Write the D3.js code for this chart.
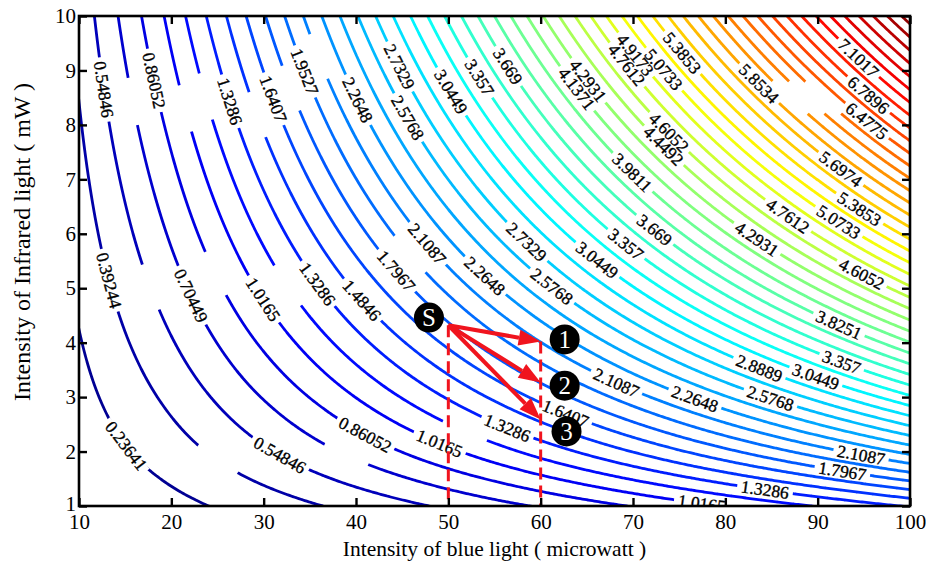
<!DOCTYPE html>
<html>
<head>
<meta charset="utf-8">
<script src="https://cdn.jsdelivr.net/npm/d3@7"></script>
<style>
  body { margin: 0; background: #fff; }
  svg { display: block; }
  text { font-family: "Liberation Serif", "Times New Roman", serif; }
</style>
</head>
<body>
<svg id="chart" width="926" height="563"></svg>
<script>
// ---- data ---------------------------------------------------------------
// response surface sampled on a coarse grid (rows: infrared mW, cols: blue µW)
const xNodes = [10, 20, 30, 40, 50, 60, 70, 80, 90, 100];
const yNodes = [1, 2, 3, 4, 5, 6, 7, 8, 9, 10];
const zRows = [
  [0.0811, 0.1890, 0.3099, 0.4402, 0.5779, 0.7219, 0.8712, 1.0253, 1.1839, 1.3463],
  [0.1355, 0.3183, 0.5246, 0.7478, 0.9845, 1.2326, 1.4904, 1.7569, 2.0316, 2.3133],
  [0.1829, 0.4319, 0.7139, 1.0197, 1.3445, 1.6855, 2.0404, 2.4075, 2.7863, 3.1752],
  [0.2263, 0.5362, 0.8882, 1.2707, 1.6772, 2.1046, 2.5498, 3.0106, 3.4865, 3.9751],
  [0.2669, 0.6342, 1.0523, 1.5070, 1.9910, 2.5002, 3.0307, 3.5805, 4.1483, 4.7316],
  [0.3055, 0.7275, 1.2087, 1.7326, 2.2906, 2.8782, 3.4906, 4.1256, 4.7818, 5.4562],
  [0.3424, 0.8169, 1.3588, 1.9493, 2.5786, 3.2417, 3.9332, 4.6504, 5.3917, 6.1540],
  [0.3779, 0.9032, 1.5038, 2.1588, 2.8573, 3.5936, 4.3617, 5.1587, 5.9827, 6.8302],
  [0.4123, 0.9869, 1.6445, 2.3623, 3.1280, 3.9357, 4.7784, 5.6531, 6.5577, 7.4884],
  [0.4458, 1.0684, 1.7816, 2.5606, 3.3920, 4.2693, 5.1849, 6.1356, 7.1190, 8.1310]
];

// contour levels
const levels = [
  0.23641, 0.39244, 0.54846, 0.70449, 0.86052, 1.0165, 1.1726, 1.3286, 1.4846, 1.6407,
  1.7967, 1.9527, 2.1087, 2.2648, 2.4208, 2.5768, 2.7329, 2.8889, 3.0449, 3.201,
  3.357, 3.513, 3.669, 3.8251, 3.9811, 4.1371, 4.2931, 4.4492, 4.6052, 4.7612,
  4.9173, 5.0733, 5.2293, 5.3853, 5.5414, 5.6974, 5.8534, 6.0095, 6.1655, 6.3215,
  6.4775, 6.6336, 6.7896, 6.9456, 7.1017, 7.2577, 7.4137, 7.5698, 7.7258, 7.8818, 8.0378
];
const colorDomain = [0.0804, 8.19];

const xTicks = [10, 20, 30, 40, 50, 60, 70, 80, 90, 100];
const yTicks = [1, 2, 3, 4, 5, 6, 7, 8, 9, 10];

// inline contour labels: [text, blue, infrared]
const contourLabels = [
  ["0.23641", 15.3, 2.13], ["0.39244", 13.6, 5.16], ["0.54846", 12.3, 8.64],
  ["0.54846", 31.6, 1.89], ["0.70449", 21.7, 4.83], ["0.86052", 18.5, 8.83],
  ["0.86052", 40.9, 2.28], ["1.0165", 29.9, 4.79], ["1.0165", 48.9, 2.09],
  ["1.0165", 77.5, 1.1], ["1.3286", 25.7, 8.40], ["1.3286", 35.2, 5.0],
  ["1.3286", 56.3, 2.40], ["1.3286", 84.3, 1.30], ["1.4846", 40.3, 4.73],
  ["1.6407", 30.8, 8.46], ["1.6407", 62.7, 2.70], ["1.7967", 44.1, 5.28],
  ["1.7967", 92.7, 1.67], ["1.9527", 34.0, 8.95], ["2.1087", 47.6, 5.80],
  ["2.1087", 68.0, 3.19], ["2.1087", 94.7, 1.94], ["2.2648", 40.2, 8.46],
  ["2.2648", 53.6, 5.16], ["2.2648", 76.6, 2.92], ["2.5768", 45.2, 8.09],
  ["2.5768", 60.9, 4.97], ["2.5768", 84.9, 2.99], ["2.7329", 44.6, 9.06],
  ["2.7329", 58.2, 5.80], ["2.8889", 83.7, 3.54], ["3.0449", 50.1, 8.59],
  ["3.0449", 65.9, 5.47], ["3.0449", 89.8, 3.38], ["3.357", 53.3, 8.86],
  ["3.357", 69.0, 5.76], ["3.357", 92.7, 3.69], ["3.669", 56.3, 9.06],
  ["3.669", 72.1, 6.02], ["3.8251", 92.2, 4.29], ["3.9811", 69.9, 7.12],
  ["4.1371", 63.7, 8.64], ["4.2931", 64.8, 8.77], ["4.2931", 83.2, 5.85],
  ["4.4492", 73.2, 7.60], ["4.6052", 73.4, 7.78], ["4.6052", 94.6, 5.21],
  ["4.7612", 69.6, 9.14], ["4.7612", 86.7, 6.31], ["4.9173", 70.2, 9.28],
  ["5.0733", 73.2, 9.00], ["5.0733", 92.2, 6.20], ["5.3853", 75.3, 9.32],
  ["5.3853", 94.6, 6.48], ["5.6974", 92.4, 7.17], ["5.8534", 83.7, 8.77],
  ["6.4775", 95.7, 8.15], ["6.7896", 95.7, 8.59], ["7.1017", 94.7, 9.28]
];
// places where a contour line is broken without a label: [blue, infrared]
const lineBreaks = [
  [25.0, 1.85], [16.1, 8.44], [21.7, 8.31], [23.9, 8.53], [29.5, 8.2],
  [33.3, 8.7], [36.3, 9.28], [17.9, 5.03], [24.8, 5.27], [32.6, 5.05],
  [45.8, 5.62], [87.0, 8.5], [88.8, 8.5], [90.6, 8.5], [39.0, 1.96],
  [51.8, 2.38]
];

// operating point and the three moves from it
const startPoint = [50, 4.32];
const arrowEnds = [[60, 4.02], [60, 3.27], [60, 2.59]];
const markers = [["S", 47.9, 4.46], ["1", 62.6, 4.06], ["2", 62.6, 3.21], ["3", 62.8, 2.37]];

// ---- layout -------------------------------------------------------------
const svg = d3.select("#chart");
const plot = { left: 79, right: 910, top: 16, bottom: 506 };
const x = d3.scaleLinear().domain([10, 100]).range([plot.left, plot.right]);
const y = d3.scaleLinear().domain([1, 10]).range([plot.bottom, plot.top]);

const jet = t => {
  const c = v => Math.max(0, Math.min(1, v));
  t = c(t);
  return d3.rgb(
    255 * c(1.5 - Math.abs(4 * t - 3)),
    255 * c(1.5 - Math.abs(4 * t - 2)),
    255 * c(1.5 - Math.abs(4 * t - 1))
  ).formatHex();
};
const color = d3.scaleSequential(jet).domain(colorDomain);

// ---- smooth surface from the grid (Catmull-Rom patches) ----------------
function node(r, c) {
  const nr = yNodes.length, nc = xNodes.length;
  if (r < 0) return 2 * node(0, c) - node(1, c);
  if (r >= nr) return 2 * node(nr - 1, c) - node(nr - 2, c);
  if (c < 0) return 2 * node(r, 0) - node(r, 1);
  if (c >= nc) return 2 * node(r, nc - 1) - node(r, nc - 2);
  return zRows[r][c];
}
function cr(p0, p1, p2, p3, t) {
  const t2 = t * t, t3 = t2 * t;
  return 0.5 * (2 * p1 + (p2 - p0) * t + (2 * p0 - 5 * p1 + 4 * p2 - p3) * t2 + (3 * p1 - p0 - 3 * p2 + p3) * t3);
}
function field(xv, yv) {
  const u = (xv - xNodes[0]) / (xNodes[1] - xNodes[0]);
  const v = (yv - yNodes[0]) / (yNodes[1] - yNodes[0]);
  const i = Math.max(0, Math.min(xNodes.length - 2, Math.floor(u)));
  const j = Math.max(0, Math.min(yNodes.length - 2, Math.floor(v)));
  const tu = u - i, tv = v - j;
  const col = [];
  for (let d = -1; d <= 2; d++) {
    const r = j + d;
    col.push(cr(node(r, i - 1), node(r, i), node(r, i + 1), node(r, i + 2), tu));
  }
  return cr(col[0], col[1], col[2], col[3], tv);
}

// ---- contour lines ------------------------------------------------------
const step = 2, pad = 3;
const cellsX = Math.round((plot.right - plot.left) / step);
const cellsY = Math.round((plot.bottom - plot.top) / step);
const nx = cellsX + 2 * pad + 1, ny = cellsY + 2 * pad + 1;
const [x0, x1] = x.domain(), [y0, y1] = y.domain();
const dxv = (x1 - x0) / cellsX, dyv = (y1 - y0) / cellsY;
const gx = i => x0 + (i - pad) * dxv;
const gy = j => y1 - (j - pad) * dyv;
const values = new Float64Array(nx * ny);
for (let j = 0; j < ny; j++)
  for (let i = 0; i < nx; i++) values[j * nx + i] = field(gx(i), gy(j));

const contours = d3.contours().size([nx, ny]).thresholds(levels).smooth(true)(values);
const gridPath = d3.geoPath(d3.geoTransform({
  point(cx, cy) { this.stream.point(x(gx(cx - 0.5)), y(gy(cy - 0.5))); }
}));

const defs = svg.append("defs");
defs.append("clipPath").attr("id", "plotClip").append("rect")
  .attr("x", plot.left).attr("y", plot.top)
  .attr("width", plot.right - plot.left).attr("height", plot.bottom - plot.top);

// place points exactly on a level line and read the local direction
const fpx = (px, py) => field(x.invert(px), y.invert(py));
function onLevel(px, py, level) {
  let gxp = 0, gyp = 0;
  for (let it = 0; it < 8; it++) {
    const h = 0.5;
    gxp = (fpx(px + h, py) - fpx(px - h, py)) / (2 * h);
    gyp = (fpx(px, py + h) - fpx(px, py - h)) / (2 * h);
    const g2 = gxp * gxp + gyp * gyp;
    const d = fpx(px, py) - level;
    px -= d * gxp / g2; py -= d * gyp / g2;
  }
  let ang = Math.atan2(gxp, -gyp) * 180 / Math.PI;
  if (ang > 90) ang -= 180;
  if (ang <= -90) ang += 180;
  return { px, py, ang };
}
const nearestLevel = z => d3.minIndex(levels, l => Math.abs(l - z));

const cuts = levels.map(() => []);
const lineLayer = svg.append("g").attr("clip-path", "url(#plotClip)");
const labelLayer = svg.append("g").attr("clip-path", "url(#plotClip)");

contourLabels.forEach(([txt, xv, yv]) => {
  const k = nearestLevel(+txt);
  const p = onLevel(x(xv), y(yv), levels[k]);
  const t = labelLayer.append("text")
    .attr("transform", `translate(${p.px},${p.py}) rotate(${p.ang})`)
    .attr("text-anchor", "middle").attr("dy", "0.34em")
    .attr("font-size", 17.5).attr("fill", "#000")
    .attr("stroke", "#000").attr("stroke-width", 0.35)
    .text(txt);
  const w = t.node().getComputedTextLength() + 8;
  cuts[k].push({ ...p, w });
});
lineBreaks.forEach(([xv, yv]) => {
  const k = nearestLevel(field(xv, yv));
  const p = onLevel(x(xv), y(yv), levels[k]);
  cuts[k].push({ ...p, w: 48 });
});

cuts.forEach((list, k) => {
  if (!list.length) return;
  const m = defs.append("mask").attr("id", `cut${k}`)
    .attr("maskUnits", "userSpaceOnUse")
    .attr("x", 0).attr("y", 0).attr("width", 926).attr("height", 563);
  m.append("rect").attr("width", 926).attr("height", 563).attr("fill", "#fff");
  list.forEach(c => m.append("rect")
    .attr("transform", `translate(${c.px},${c.py}) rotate(${c.ang})`)
    .attr("x", -c.w / 2).attr("y", -4.5).attr("width", c.w).attr("height", 9)
    .attr("fill", "#000"));
});

lineLayer.selectAll("path").data(contours).join("path")
  .attr("d", gridPath)
  .attr("fill", "none")
  .attr("stroke", d => color(d.value))
  .attr("stroke-width", 2.8)
  .attr("mask", d => {
    const k = levels.indexOf(d.value);
    return cuts[k] && cuts[k].length ? `url(#cut${k})` : null;
  });

// ---- annotations --------------------------------------------------------
const red = "#f0141e";
const ann = svg.append("g");
[startPoint, arrowEnds[0]].forEach(([xv, yv]) => {
  ann.append("line")
    .attr("x1", x(xv)).attr("x2", x(xv)).attr("y1", y(yv)).attr("y2", y(1))
    .attr("stroke", red).attr("stroke-width", 3).attr("stroke-dasharray", "12,6");
});
arrowEnds.forEach(([xv, yv]) => {
  const sx = x(startPoint[0]), sy = y(startPoint[1]);
  const ex = x(xv), ey = y(yv);
  const a = Math.atan2(ey - sy, ex - sx);
  const L = 22, hw = 8;
  const bx = ex - L * Math.cos(a), by = ey - L * Math.sin(a);
  ann.append("line").attr("x1", sx).attr("y1", sy).attr("x2", bx).attr("y2", by)
    .attr("stroke", red).attr("stroke-width", 4);
  ann.append("path")
    .attr("d", `M${ex},${ey}L${bx - hw * Math.sin(a)},${by + hw * Math.cos(a)}L${bx + hw * Math.sin(a)},${by - hw * Math.cos(a)}Z`)
    .attr("fill", red);
});
markers.forEach(([txt, xv, yv]) => {
  ann.append("circle").attr("cx", x(xv)).attr("cy", y(yv)).attr("r", 15).attr("fill", "#000");
  ann.append("text").attr("x", x(xv)).attr("y", y(yv)).attr("dy", "0.35em")
    .attr("text-anchor", "middle").attr("font-size", 25).attr("fill", "#fff").text(txt);
});

// ---- axes ---------------------------------------------------------------
const axes = svg.append("g");
const styleAxis = g => {
  g.select(".domain").remove();
  g.selectAll(".tick line").attr("stroke", "#000").attr("stroke-width", 2.4);
  g.selectAll(".tick text").attr("font-size", 21).attr("fill", "#000")
    .attr("font-family", "Liberation Serif, Times New Roman, serif");
};
axes.append("g").attr("transform", `translate(0,${plot.bottom})`)
  .call(d3.axisBottom(x).tickValues(xTicks).tickSize(-8).tickPadding(8)).call(styleAxis);
axes.append("g").attr("transform", `translate(${plot.left},0)`)
  .call(d3.axisLeft(y).tickValues(yTicks).tickSize(-8).tickPadding(3)).call(styleAxis);
axes.select("g:nth-child(2) .tick text").attr("dy", "0.2em");
axes.append("g").attr("transform", `translate(0,${plot.top})`)
  .call(d3.axisTop(x).tickValues(xTicks).tickSize(-8).tickFormat("")).call(styleAxis);
axes.append("g").attr("transform", `translate(${plot.right},0)`)
  .call(d3.axisRight(y).tickValues(yTicks).tickSize(-8).tickFormat("")).call(styleAxis);
axes.append("rect")
  .attr("x", plot.left).attr("y", plot.top)
  .attr("width", plot.right - plot.left).attr("height", plot.bottom - plot.top)
  .attr("fill", "none").attr("stroke", "#000").attr("stroke-width", 2.6);

axes.append("text")
  .attr("x", (plot.left + plot.right) / 2).attr("y", 556)
  .attr("text-anchor", "middle").attr("font-size", 21.5).attr("fill", "#000")
  .text("Intensity of blue light ( microwatt )");
axes.append("text")
  .attr("transform", "translate(30,242) rotate(-90)")
  .attr("text-anchor", "middle").attr("font-size", 24).attr("fill", "#000")
  .text("Intensity of Infrared light ( mW )");
</script>
</body>
</html>
